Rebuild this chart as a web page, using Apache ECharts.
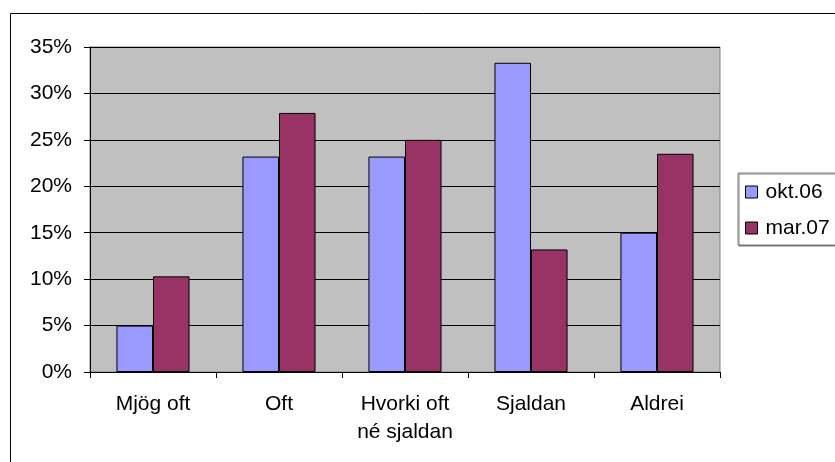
<!DOCTYPE html>
<html>
<head>
<meta charset="utf-8">
<script src="https://cdn.jsdelivr.net/npm/echarts@6/dist/echarts.min.js"></script>
<style>
html,body{margin:0;padding:0;background:#fff;overflow:hidden;}
#chart{width:835px;height:462px;}
</style>
</head>
<body>
<div id="chart"></div>
<script>
const categories = ['Mjög oft', 'Oft', 'Hvorki oft\nné sjaldan', 'Sjaldan', 'Aldrei'];
const seriesNames = ['okt.06', 'mar.07'];
const okt06 = [5.0, 23.2, 23.2, 33.3, 15.0];
const mar07 = [10.3, 27.9, 25.0, 13.2, 23.5];
const yTicks = { min: 0, max: 35, interval: 5 };

const font = 'Arial, "Liberation Sans", sans-serif';
const chart = echarts.init(document.getElementById('chart'), null, { renderer: 'canvas' });
chart.setOption({
  animation: false,
  backgroundColor: '#fff',
  textStyle: { fontFamily: font },
  graphic: [{
    type: 'rect', left: 8, top: 11, z: -1,
    shape: { width: 900, height: 500 },
    style: { fill: 'none', stroke: '#000', lineWidth: 1 }
  }],
  grid: {
    left: 90, right: 115, top: 47, bottom: 90,
    show: true, backgroundColor: '#C0C0C0', borderColor: '#808080', borderWidth: 1
  },
  legend: {
    orient: 'vertical', left: 738, top: 173,
    data: seriesNames,
    icon: 'rect', itemWidth: 12, itemHeight: 12, itemGap: 12,
    padding: [7, 30, 5, 7],
    borderColor: '#808080', borderWidth: 1,
    backgroundColor: '#fff',
    shadowColor: 'rgba(0,0,0,0.5)', shadowOffsetX: 1, shadowOffsetY: 1,
    textStyle: { fontSize: 21, lineHeight: 24, color: '#000', fontFamily: font, padding: [0, 0, 0, 3] },
    itemStyle: { borderColor: '#000', borderWidth: 1 }
  },
  xAxis: {
    type: 'category', data: categories,
    axisLine: { show: true, lineStyle: { color: '#000', width: 1 } },
    axisTick: { show: true, length: 6, lineStyle: { color: '#000' } },
    axisLabel: { color: '#000', fontSize: 21, fontFamily: font, margin: 18, lineHeight: 28 },
    splitLine: { show: false }
  },
  yAxis: {
    type: 'value', min: yTicks.min, max: yTicks.max, interval: yTicks.interval,
    axisLine: { show: true, lineStyle: { color: '#000', width: 1 } },
    axisTick: { show: true, length: 6, lineStyle: { color: '#000' } },
    axisLabel: { color: '#000', fontSize: 21, fontFamily: font, margin: 18, formatter: '{value}%' },
    splitLine: { show: true, lineStyle: { color: '#000', width: 1 } }
  },
  series: [
    { name: seriesNames[0], type: 'bar', data: okt06, barGap: '0%', barCategoryGap: '42%',
      itemStyle: { color: '#9999FF', borderColor: '#000', borderWidth: 1 } },
    { name: seriesNames[1], type: 'bar', data: mar07, barGap: '0%', barCategoryGap: '42%',
      itemStyle: { color: '#993366', borderColor: '#000', borderWidth: 1 } }
  ]
});
</script>
</body>
</html>
